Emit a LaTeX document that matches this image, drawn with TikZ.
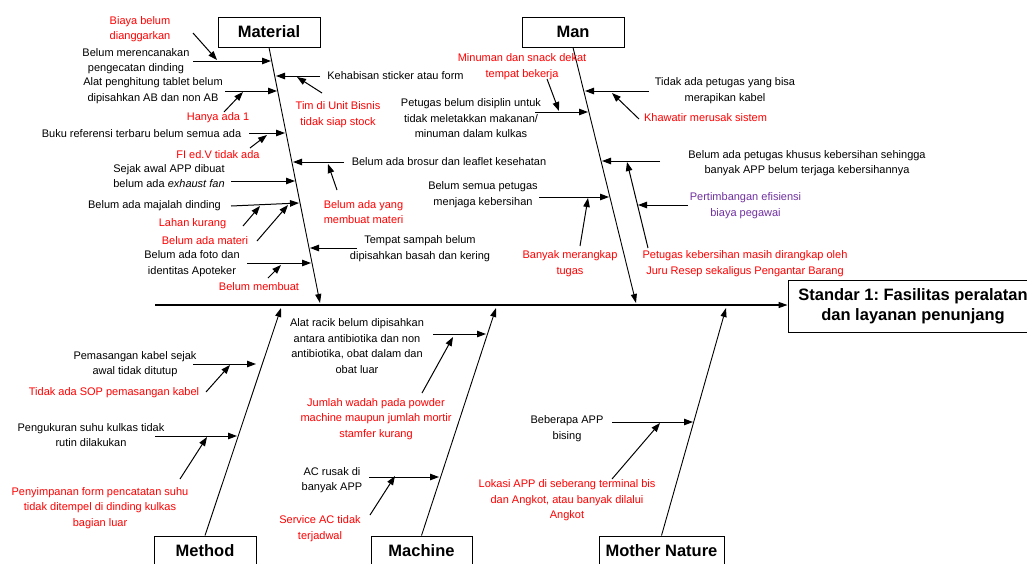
\documentclass[tikz,border=0pt]{standalone}
\usepackage{fontspec}
\setmainfont{Liberation Sans}
\frenchspacing
\usetikzlibrary{arrows.meta}
\definecolor{alasan}{RGB}{255,0,0}
\definecolor{ungu}{RGB}{112,48,160}
\tikzset{
  kategori/.style={draw, line width=0.9pt, inner sep=0pt, minimum height=30pt,
    font=\fontsize{16.5}{20}\selectfont\bfseries},
  teks/.style={align=center, inner sep=0pt, font=\fontsize{11}{15.5}\selectfont},
  alasan/.style={teks, text=alasan},
  panah/.style={-{Triangle[length=9pt,width=6.5pt]}, line width=1pt},
  tulang/.style={-{Triangle[length=9pt,width=6pt]}, line width=0.9pt}
}
\begin{document}
\begin{tikzpicture}[x=1pt,y=-1pt]
  \useasboundingbox (0,0) rectangle (1027,563);
  %kepala dan tulang utama
  \node[kategori, align=center, minimum width=250pt, minimum height=52pt] (standar) at (913,306) {Standar 1: Fasilitas peralatan\\dan layanan penunjang};
  \coordinate (ekor) at (155,305);
  \draw[tulang, line width=1.2pt] (ekor) -- (standar.west |- ekor);
  %kategori
  \node[kategori, minimum width=102pt] (material) at (269,32) {Material};
  \node[kategori, minimum width=102pt] (man) at (573,32) {Man};
  \node[kategori, minimum width=102pt] (method) at (205,551) {Method};
  \node[kategori, minimum width=101pt] (machine) at (421.5,551) {Machine};
  \node[kategori, minimum width=125pt] (alam) at (661.5,551) {Mother Nature};
  \coordinate (material-t) at (320,303); \coordinate (man-t) at (636,303);
  \coordinate (method-t) at (281,308); \coordinate (machine-t) at (496,308);
  \coordinate (alam-t) at (726,308);
  \draw[tulang] (material.south) -- (material-t);
  \draw[tulang] (man.south) -- (man-t);
  \draw[tulang] (method.north) -- (method-t);
  \draw[tulang] (machine.north) -- (machine-t);
  \draw[tulang] (alam.north) -- (alam-t);

  %Material
  \node[alasan] (ma0) at (140,29) {Biaya belum\\dianggarkan};
  \node[teks] (ma1) at (136,61) {Belum merencanakan\\pengecatan dinding};
  \node[teks] (ma2) at (395.5,76) {Kehabisan sticker atau form};
  \node[alasan] (ma2r) at (338,114.5) {Tim di Unit Bisnis\\tidak siap stock};
  \node[teks] (ma3) at (153,90.5) {Alat penghitung tablet belum\\dipisahkan AB dan non AB};
  \node[alasan] (ma3r) at (218,118) {Hanya ada 1};
  \node[teks] (ma4) at (141.5,134) {Buku referensi terbaru belum semua ada};
  \node[alasan] (ma4r) at (218,155) {FI ed.V tidak ada};
  \node[teks] (ma5) at (449,162) {Belum ada brosur dan leaflet kesehatan};
  \node[alasan] (ma5r) at (363.5,212) {Belum ada yang\\membuat materi};
  \node[teks] (ma6) at (169,176) {Sejak awal APP dibuat\\belum ada \textit{exhaust fan}};
  \node[teks] (ma7) at (154.5,206) {Belum ada majalah dinding};
  \node[alasan] (ma7r) at (192.5,224) {Lahan kurang};
  \node[alasan] (ma7s) at (205,241) {Belum ada materi};
  \node[teks] (ma8) at (420,248.5) {Tempat sampah belum\\dipisahkan basah dan kering};
  \node[teks] (ma9) at (192,263.5) {Belum ada foto dan\\identitas Apoteker};
  \node[alasan] (ma9r) at (259,287) {Belum membuat};
  \coordinate (a1) at (193,61);  \coordinate (a1t) at (271,61);
  \coordinate (r1) at (193,33);  \coordinate (r1t) at (217,60);
  \coordinate (a2) at (320,76);  \coordinate (a2t) at (276,76);
  \coordinate (r2) at (322,93);  \coordinate (r2t) at (297,77);
  \coordinate (a3) at (225,91);  \coordinate (a3t) at (277,91);
  \coordinate (r3) at (224,112); \coordinate (r3t) at (243,92);
  \coordinate (a4) at (249,133); \coordinate (a4t) at (285,133);
  \coordinate (r4) at (250,148); \coordinate (r4t) at (267,135);
  \coordinate (a5) at (344,162); \coordinate (a5t) at (293,162);
  \coordinate (r5) at (337,190); \coordinate (r5t) at (328,164);
  \coordinate (a6) at (231,181); \coordinate (a6t) at (295,181);
  \coordinate (a7) at (231,206); \coordinate (a7t) at (299,203);
  \coordinate (r7) at (243,226); \coordinate (r7t) at (260,206);
  \coordinate (s7) at (257,241); \coordinate (s7t) at (288,205);
  \coordinate (a8) at (357,248); \coordinate (a8t) at (310,248);
  \coordinate (a9) at (247,263); \coordinate (a9t) at (311,263);
  \coordinate (r9) at (268,278); \coordinate (r9t) at (281,265);
  \foreach \p in {a1,r1,a2,r2,a3,r3,a4,r4,a5,r5,a6,a7,r7,s7,a8,a9,r9}
    \draw[panah] (\p) -- (\p t);

  %Man
  \node[alasan] (mn0) at (522,66.5) {Minuman dan snack dekat\\tempat bekerja};
  \node[teks] (mn1) at (471,118.5) {Petugas belum disiplin untuk\\tidak meletakkan makanan/\\minuman dalam kulkas};
  \node[teks] (mn2) at (725,90.5) {Tidak ada petugas yang bisa\\merapikan kabel};
  \node[alasan] (mn2r) at (705.5,118) {Khawatir merusak sistem};
  \node[teks] (mn3) at (807,163) {Belum ada petugas khusus kebersihan sehingga\\banyak APP belum terjaga kebersihannya};
  \node[teks, text=ungu] (mn3u) at (745.5,205.5) {Pertimbangan efisiensi\\biaya pegawai};
  \node[alasan] (mn3r) at (745,263.5) {Petugas kebersihan masih dirangkap oleh\\Juru Resep sekaligus Pengantar Barang};
  \node[teks] (mn4) at (483,194.5) {Belum semua petugas\\menjaga kebersihan};
  \node[alasan] (mn4r) at (570,263.5) {Banyak merangkap\\tugas};
  \coordinate (b1) at (535,112); \coordinate (b1t) at (588,112);
  \coordinate (q1) at (547,79);  \coordinate (q1t) at (559,111);
  \coordinate (b2) at (649,91);  \coordinate (b2t) at (585,91);
  \coordinate (q2) at (639,119); \coordinate (q2t) at (612,93);
  \coordinate (b3) at (660,161); \coordinate (b3t) at (602,161);
  \coordinate (q3) at (648,248); \coordinate (q3t) at (627,162);
  \coordinate (u3) at (688,205); \coordinate (u3t) at (638,205);
  \coordinate (b4) at (539,197); \coordinate (b4t) at (609,197);
  \coordinate (q4) at (580,246); \coordinate (q4t) at (588,198);
  \foreach \p in {b1,q1,b2,q2,b3,q3,u3,b4,q4}
    \draw[panah] (\p) -- (\p t);

  %Method
  \node[teks] (me1) at (135,364) {Pemasangan kabel sejak\\awal tidak ditutup};
  \node[alasan] (me1r) at (114,393) {Tidak ada SOP pemasangan kabel};
  \node[teks] (me2) at (91,435) {Pengukuran suhu kulkas tidak\\rutin dilakukan};
  \node[alasan] (me2r) at (100,508) {Penyimpanan form pencatatan suhu\\tidak ditempel di dinding kulkas\\bagian luar};
  \coordinate (c1) at (193,364); \coordinate (c1t) at (256,364);
  \coordinate (p1) at (206,392); \coordinate (p1t) at (230,365);
  \coordinate (c2) at (155,436); \coordinate (c2t) at (237,436);
  \coordinate (p2) at (180,479); \coordinate (p2t) at (207,437);

  %Machine
  \node[teks] (mc1) at (357,346) {Alat racik belum dipisahkan\\antara antibiotika dan non\\antibiotika, obat dalam dan\\obat luar};
  \node[alasan] (mc1r) at (376,419) {Jumlah wadah pada powder\\machine maupun jumlah mortir\\stamfer kurang};
  \node[teks] (mc2) at (332,480) {AC rusak di\\banyak APP};
  \node[alasan] (mc2r) at (320,528.5) {Service AC tidak\\terjadwal};
  \coordinate (d1) at (433,334); \coordinate (d1t) at (486,334);
  \coordinate (e1) at (422,393); \coordinate (e1t) at (453,337);
  \coordinate (d2) at (369,477); \coordinate (d2t) at (439,477);
  \coordinate (e2) at (370,515); \coordinate (e2t) at (395,476);

  %Mother Nature
  \node[teks] (al1) at (567,428.5) {Beberapa APP\\bising};
  \node[alasan] (al1r) at (567,500.5) {Lokasi APP di seberang terminal bis\\dan Angkot, atau banyak dilalui\\Angkot};
  \coordinate (f1) at (612,422); \coordinate (f1t) at (693,422);
  \coordinate (g1) at (612,479); \coordinate (g1t) at (660,423);
  \foreach \p in {c1,p1,c2,p2,d1,e1,d2,e2,f1,g1}
    \draw[panah] (\p) -- (\p t);
\end{tikzpicture}
\end{document}
